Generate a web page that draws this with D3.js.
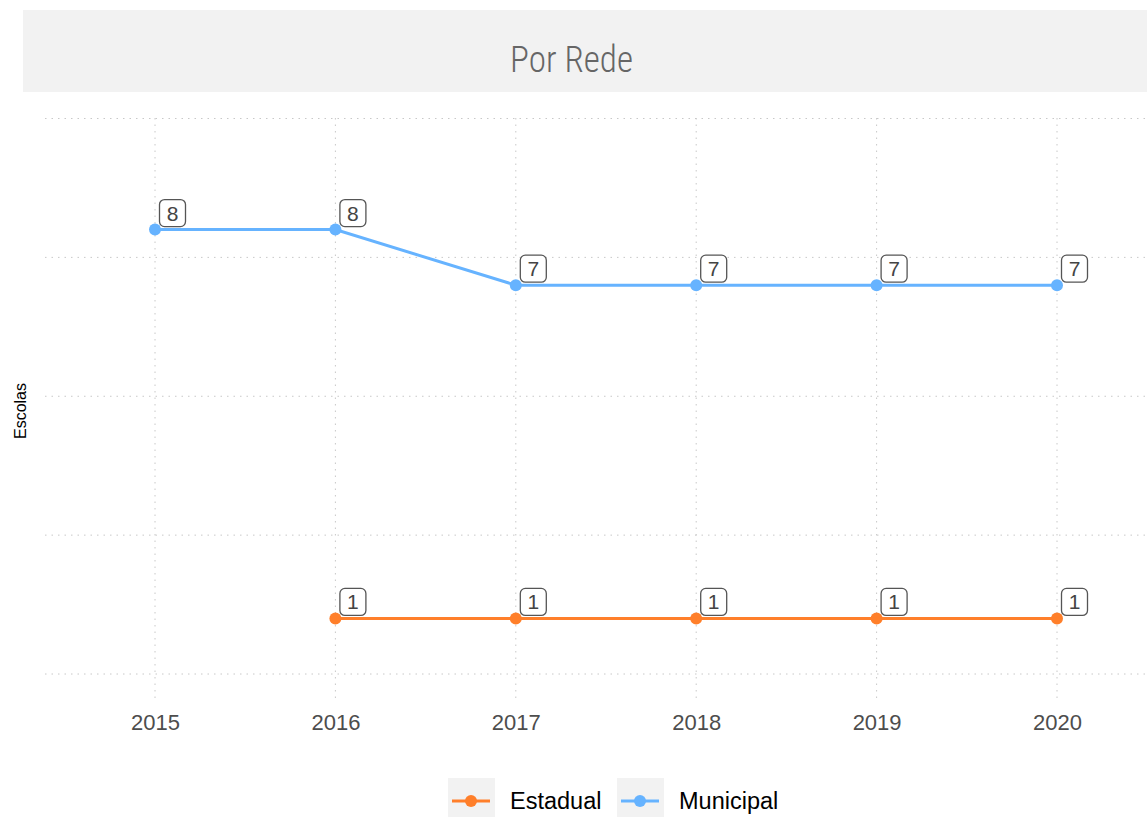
<!DOCTYPE html>
<html>
<head>
<meta charset="utf-8">
<script src="https://cdn.jsdelivr.net/npm/d3@7/dist/d3.min.js"></script>
<style>
  html, body { margin: 0; padding: 0; background: #fff; }
  svg { display: block; }
</style>
</head>
<body>
<svg id="chart" width="1147" height="817"></svg>
<script>
// Number of schools per network, by year
const years = [2015, 2016, 2017, 2018, 2019, 2020];
const estadualYears = [2016, 2017, 2018, 2019, 2020];
const estadualValues = [1, 1, 1, 1, 1];
const municipalYears = [2015, 2016, 2017, 2018, 2019, 2020];
const municipalValues = [8, 8, 7, 7, 7, 7];
const yGridValues = [0, 2.5, 5, 7.5, 10];
const seriesNames = ["Estadual", "Municipal"];
const seriesColors = ["#ff7f2a", "#66b3ff"];

const svg = d3.select("#chart");
const W = 1147, H = 817;

// Strip title
svg.append("rect").attr("x", 23).attr("y", 10).attr("width", W - 23).attr("height", 82).attr("fill", "#f2f2f2");
svg.append("text")
  .attr("x", 571.5).attr("y", 72)
  .attr("text-anchor", "middle")
  .attr("font-family", "'Liberation Sans Narrow', 'Roboto Condensed', Roboto, sans-serif")
  .attr("font-size", 37)
  .attr("font-weight", 300)
  .attr("textLength", 123)
  .attr("lengthAdjust", "spacingAndGlyphs")
  .attr("fill", "#666")
  .text("Por Rede");

// Scales
const x = d3.scalePoint().domain(years).range([155, 1057]);
const y = d3.scaleLinear().domain([0, 10]).range([674, 118.5]);

const panelLeft = 45, panelRight = W, panelTop = 118, panelBottom = 700;

// Grid
const grid = svg.append("g");
grid.selectAll("line.h").data(yGridValues).join("line")
  .attr("x1", panelLeft).attr("x2", panelRight)
  .attr("y1", d => y(d)).attr("y2", d => y(d))
  .attr("stroke", "#c8c8c8").attr("stroke-width", 1).attr("stroke-dasharray", "1.5,5");
grid.selectAll("line.v").data(years).join("line")
  .attr("x1", d => x(d)).attr("x2", d => x(d))
  .attr("y1", panelTop).attr("y2", panelBottom)
  .attr("stroke", "#c8c8c8").attr("stroke-width", 1).attr("stroke-dasharray", "1.5,5");

// X axis labels
const xAxis = d3.axisBottom(x).tickSize(0).tickPadding(0);
const gx = svg.append("g").attr("transform", `translate(0,${panelBottom})`).call(xAxis);
gx.select(".domain").remove();
gx.selectAll("text")
  .attr("dy", 0).attr("y", 30)
  .attr("font-family", "'Liberation Sans', Arial, sans-serif")
  .attr("font-size", 22).attr("fill", "#4d4d4d");

// Y axis title
svg.append("text")
  .attr("transform", "translate(26,411) rotate(-90)")
  .attr("text-anchor", "middle")
  .attr("font-family", "'Liberation Sans', Arial, sans-serif")
  .attr("font-size", 16).attr("fill", "#000")
  .text("Escolas");

const series = [
  { name: seriesNames[0], color: seriesColors[0], data: estadualYears.map((yr, i) => ({ year: yr, value: estadualValues[i] })) },
  { name: seriesNames[1], color: seriesColors[1], data: municipalYears.map((yr, i) => ({ year: yr, value: municipalValues[i] })) }
];

const line = d3.line().x(d => x(d.year)).y(d => y(d.value));

series.forEach(s => {
  const g = svg.append("g");
  g.append("path").datum(s.data).attr("d", line)
    .attr("fill", "none").attr("stroke", s.color).attr("stroke-width", 3);
  g.selectAll("circle").data(s.data).join("circle")
    .attr("cx", d => x(d.year)).attr("cy", d => y(d.value)).attr("r", 6)
    .attr("fill", s.color);

  // Value labels
  const lab = g.selectAll("g.lab").data(s.data).join("g")
    .attr("transform", d => `translate(${x(d.year) + 4.5},${y(d.value) - 30})`);
  lab.append("rect").attr("x", 0).attr("y", 0).attr("width", 26).attr("height", 27)
    .attr("rx", 5).attr("fill", "#fff").attr("stroke", "#555").attr("stroke-width", 1.3);
  lab.append("text").attr("x", 13).attr("y", 21).attr("text-anchor", "middle")
    .attr("font-family", "'Liberation Sans', Arial, sans-serif")
    .attr("font-size", 21).attr("fill", "#444")
    .text(d => d.value);
});

// Legend
const legendItems = [
  { name: seriesNames[0], color: seriesColors[0], kx: 448, tx: 510 },
  { name: seriesNames[1], color: seriesColors[1], kx: 617, tx: 679 }
];
const lg = svg.append("g");
legendItems.forEach(it => {
  lg.append("rect").attr("x", it.kx).attr("y", 778).attr("width", 47).attr("height", 40).attr("fill", "#f2f2f2");
  lg.append("line").attr("x1", it.kx + 4).attr("x2", it.kx + 42).attr("y1", 801).attr("y2", 801)
    .attr("stroke", it.color).attr("stroke-width", 3);
  lg.append("circle").attr("cx", it.kx + 23).attr("cy", 801).attr("r", 6).attr("fill", it.color);
  lg.append("text").attr("x", it.tx).attr("y", 809)
    .attr("font-family", "'Liberation Sans', Arial, sans-serif")
    .attr("font-size", 23.5).attr("fill", "#000").text(it.name);
});
</script>
</body>
</html>
